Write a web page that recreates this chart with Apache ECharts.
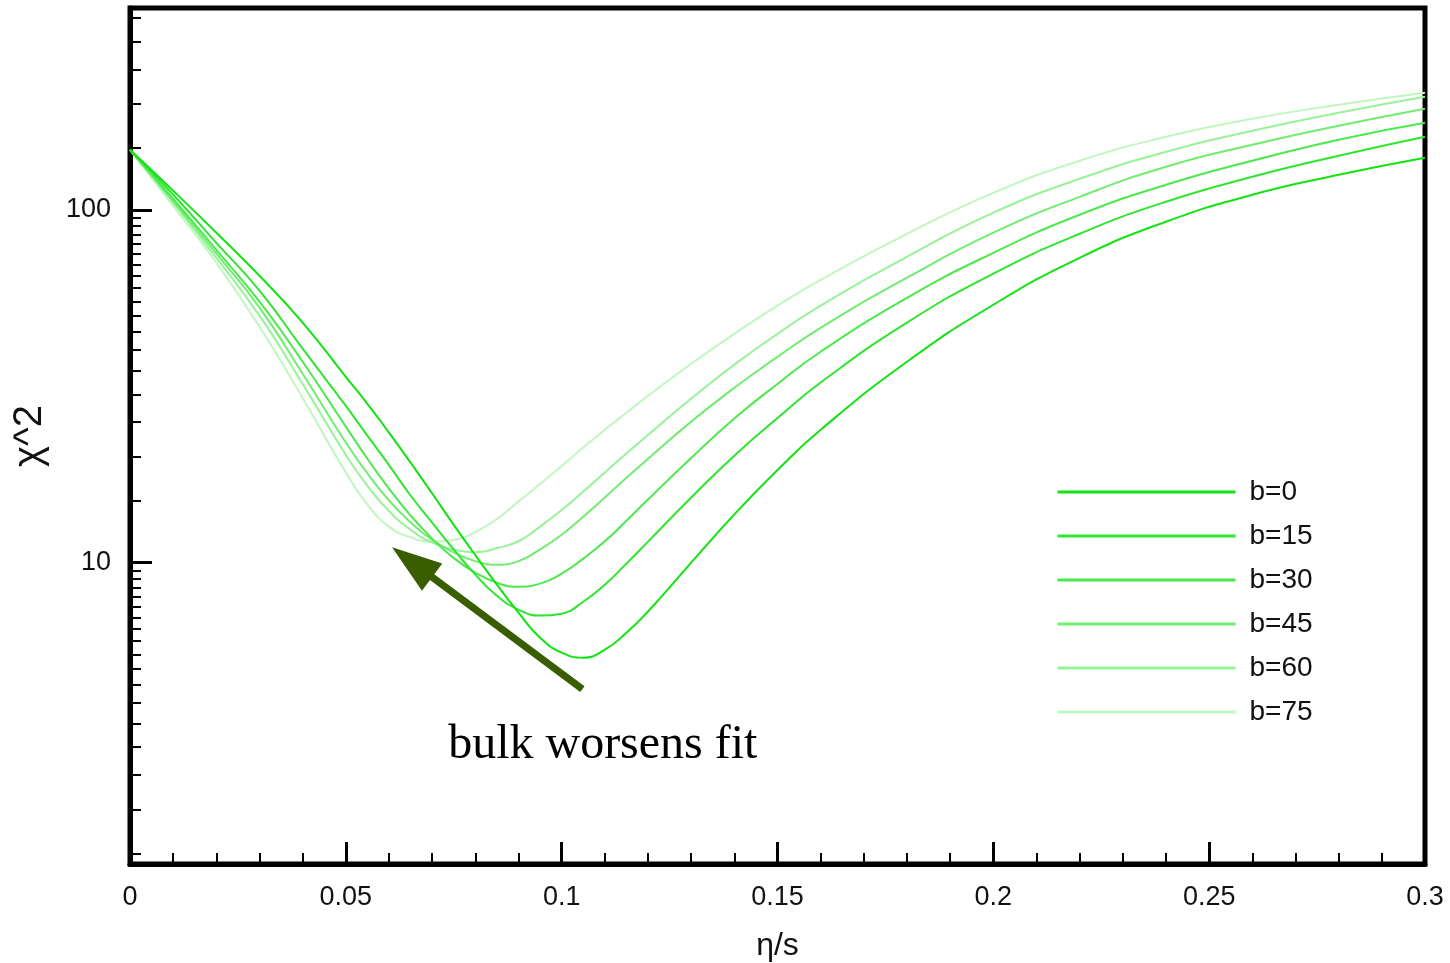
<!DOCTYPE html>
<html>
<head>
<meta charset="utf-8">
<script src="https://cdn.jsdelivr.net/npm/echarts@6/dist/echarts.min.js"></script>
<style>
  html, body { margin: 0; padding: 0; background: #ffffff; }
  #chart { width: 1450px; height: 963px; }
</style>
</head>
<body>
<div id="chart"></div>
<script>
// eta/s sample points
const eta = [0, 0.01, 0.02, 0.03, 0.04, 0.05, 0.055, 0.06, 0.065, 0.07, 0.075, 0.08, 0.085, 0.09, 0.095,
             0.1, 0.105, 0.11, 0.115, 0.12, 0.13, 0.14, 0.15, 0.16, 0.18, 0.2, 0.22, 0.24, 0.26, 0.28, 0.3];

// chi^2 for each bulk-viscosity setting b
const chi2_b0  = [147.9, 113.2, 86.1, 65.0, 47.9, 33.6, 28.2, 23.35, 19.2, 15.7, 12.8, 10.5, 8.66, 7.22, 6.13,
                  5.56, 5.38, 5.67, 6.33, 7.27, 10.0, 13.7, 18.3, 23.8, 37.1, 53.8, 73.1, 92.5, 110.3, 125.6, 140.4];
const chi2_b15 = [147.9, 110.3, 80.6, 59.0, 40.4, 27.8, 22.9, 18.9, 15.5, 12.98, 10.9, 9.25, 8.06, 7.36, 7.08,
                  7.17, 7.75, 8.66, 9.94, 11.47, 15.3, 20.1, 25.7, 32.4, 47.9, 65.9, 85.5, 105.4, 124.0, 142.2, 161.0];
const chi2_b30 = [147.9, 107.4, 77.0, 54.9, 37.1, 24.3, 19.7, 16.2, 13.6, 11.7, 10.3, 9.37, 8.77, 8.55, 8.72,
                  9.31, 10.27, 11.5, 13.15, 15.1, 19.8, 25.6, 32.1, 39.6, 56.3, 75.5, 96.8, 117.7, 137.7, 157.9, 176.4];
const chi2_b45 = [147.9, 106.0, 75.1, 52.8, 34.3, 21.9, 17.9, 15.0, 13.0, 11.6, 10.7, 10.1, 9.87, 10.1, 10.9,
                  12.0, 13.5, 15.3, 17.4, 19.7, 25.1, 31.3, 38.3, 46.3, 64.2, 86.1, 108.8, 132.4, 152.8, 173.0, 193.3];
const chi2_b60 = [147.9, 104.7, 73.1, 50.1, 32.1, 20.2, 16.5, 14.0, 12.4, 11.4, 10.9, 10.7, 11.0, 11.5, 12.65,
                  14.1, 15.9, 18.0, 20.4, 23.0, 29.2, 36.4, 44.5, 53.5, 73.6, 98.1, 122.4, 146.0, 167.4, 188.3, 209.0];
const chi2_b75 = [147.9, 102.6, 70.8, 46.6, 29.3, 18.0, 14.6, 12.65, 11.8, 11.47, 11.6, 12.2, 13.3, 14.9, 16.7,
                  18.8, 21.2, 23.8, 26.6, 29.7, 36.6, 44.5, 53.5, 63.3, 85.5, 111.7, 137.7, 161.0, 181.0, 198.4, 214.5];

const seriesNames = ['b=0', 'b=15', 'b=30', 'b=45', 'b=60', 'b=75'];
const seriesValues = [chi2_b0, chi2_b15, chi2_b30, chi2_b45, chi2_b60, chi2_b75];
const seriesColors = ['#12e312', '#2ee62e', '#4ce94c', '#70ed70', '#98f298', '#bff7bf'];

// y-axis ticks
const yMajorTicks = [10, 100];
const yMinorTicks = [1.5, 2, 2.5, 3, 3.5, 4, 4.5, 5, 5.5, 6, 6.5, 7, 7.5, 8, 8.5, 9, 9.5,
                     15, 20, 25, 30, 35, 40, 45, 50, 55, 60, 65, 70, 75, 80, 85, 90, 95,
                     150, 200, 250, 300, 350];

// annotation anchors (data space)
const arrowTail = [0.1048, 4.38];
const arrowTip = [0.0607, 11.05];
const noteAnchor = [0.0737, 3.04];
const noteText = 'bulk worsens fit';

const Y_MIN = 1.4, Y_MAX = 373;
const sansFont = '"Liberation Sans", Arial, Helvetica, sans-serif';

const chart = echarts.init(document.getElementById('chart'), null, { renderer: 'canvas' });

const series = seriesNames.map((name, k) => ({
  name,
  type: 'line',
  xAxisIndex: 0,
  yAxisIndex: 0,
  data: eta.map((x, i) => [x, seriesValues[k][i]]),
  smooth: 0.5,
  symbol: 'none',
  showSymbol: false,
  lineStyle: { color: seriesColors[k], width: 2 },
  itemStyle: { color: seriesColors[k] },
  emphasis: { disabled: true },
  z: 2 + (seriesNames.length - k)
}));

chart.setOption({
  animation: false,
  backgroundColor: '#ffffff',
  grid: {
    left: 130, right: 25, top: 8, bottom: 99,
    outerBoundsMode: 'none',
    show: true, borderColor: '#000', borderWidth: 5, backgroundColor: 'transparent'
  },
  legend: {
    orient: 'vertical',
    left: 1051, top: 473,
    itemWidth: 178, itemHeight: 14, itemGap: 16,
    data: seriesNames,
    selectedMode: false,
    itemStyle: { opacity: 0 },
    lineStyle: { width: 3 },
    textStyle: { fontSize: 28, color: '#111', fontFamily: sansFont, padding: [0, 0, 0, 9] }
  },
  xAxis: [{
    type: 'value',
    min: 0, max: 0.3, interval: 0.05,
    name: 'η/s',
    nameLocation: 'middle',
    nameGap: 66,
    nameTextStyle: { fontSize: 32, color: '#111', fontFamily: sansFont },
    axisLine: { show: true, onZero: false, lineStyle: { color: '#000', width: 5 } },
    axisTick: { show: true, inside: true, length: 22, lineStyle: { color: '#000', width: 3 } },
    minorTick: { show: true, splitNumber: 5, length: 11, lineStyle: { color: '#000', width: 2 } },
    axisLabel: { fontSize: 27, color: '#111', fontFamily: sansFont, margin: 20 },
    splitLine: { show: false },
    minorSplitLine: { show: false }
  }],
  yAxis: [{
    type: 'log',
    logBase: 10,
    min: Y_MIN, max: Y_MAX,
    name: 'χ^2',
    nameLocation: 'middle',
    nameRotate: 90,
    nameGap: 80,
    nameTextStyle: { fontSize: 40, color: '#111', fontFamily: sansFont },
    axisLine: { show: true, onZero: false, lineStyle: { color: '#000', width: 5 } },
    axisTick: { show: true, inside: true, length: 22, customValues: yMajorTicks, lineStyle: { color: '#000', width: 3 } },
    axisLabel: {
      fontSize: 27, color: '#111', fontFamily: sansFont, margin: 19,
      customValues: yMajorTicks,
      formatter: v => String(Math.round(v))
    },
    splitLine: { show: false }
  }, {
    type: 'log',
    logBase: 10,
    min: Y_MIN, max: Y_MAX,
    position: 'left',
    axisLine: { show: false },
    axisTick: { show: true, inside: true, length: 11, customValues: yMinorTicks, lineStyle: { color: '#000', width: 2 } },
    axisLabel: { show: false },
    splitLine: { show: false }
  }],
  series
});

// arrow + note, placed from data-space anchors
function buildAnnotation() {
  const S = chart.convertToPixel({ gridIndex: 0 }, arrowTail);
  const T = chart.convertToPixel({ gridIndex: 0 }, arrowTip);
  const N = chart.convertToPixel({ gridIndex: 0 }, noteAnchor);
  const dx = T[0] - S[0], dy = T[1] - S[1];
  const len = Math.hypot(dx, dy);
  const ux = dx / len, uy = dy / len;
  const nx = -uy, ny = ux;
  const hw = 3.6, hl = 50, hh = 17;
  const B = [T[0] - ux * hl, T[1] - uy * hl];
  const pts = [
    [S[0] + nx * hw, S[1] + ny * hw],
    [B[0] + nx * hw, B[1] + ny * hw],
    [B[0] + nx * hh, B[1] + ny * hh],
    [T[0], T[1]],
    [B[0] - nx * hh, B[1] - ny * hh],
    [B[0] - nx * hw, B[1] - ny * hw],
    [S[0] - nx * hw, S[1] - ny * hw]
  ];
  chart.setOption({
    graphic: [{
      type: 'polygon',
      shape: { points: pts },
      style: { fill: '#385e00' },
      z: 100
    }, {
      type: 'text',
      x: N[0], y: N[1],
      style: {
        text: noteText,
        fontSize: 48,
        fontFamily: '"Liberation Serif", "Times New Roman", serif',
        fill: '#000',
        align: 'left',
        verticalAlign: 'middle'
      },
      z: 100
    }]
  });
}
buildAnnotation();
</script>
</body>
</html>
